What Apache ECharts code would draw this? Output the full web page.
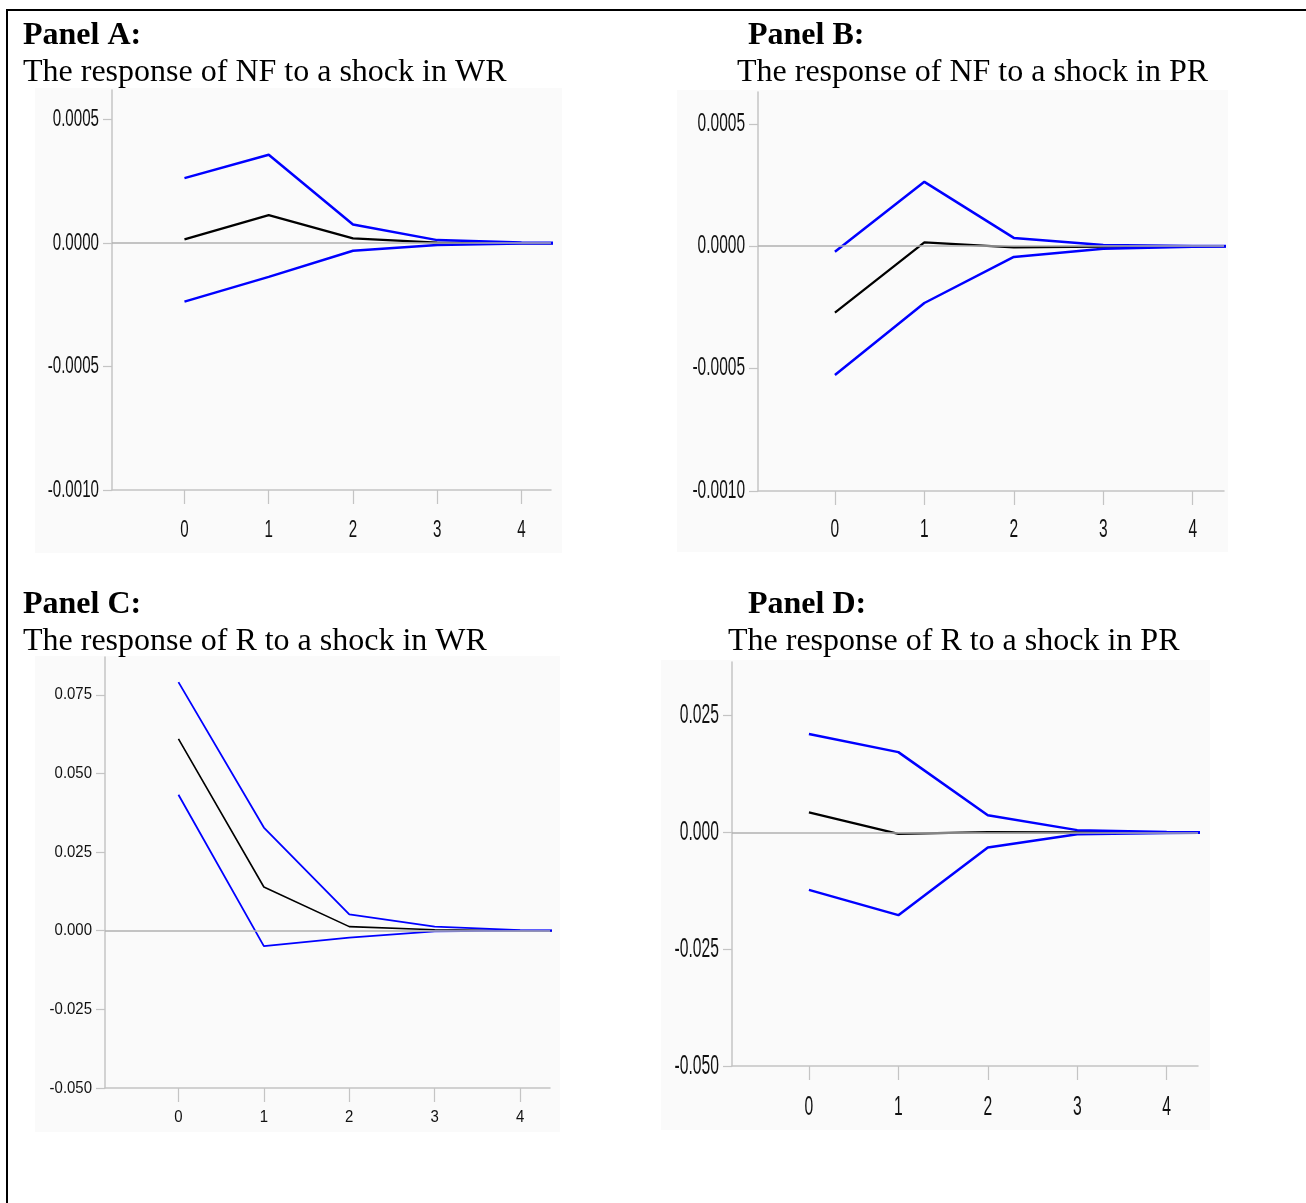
<!DOCTYPE html>
<html>
<head>
<meta charset="utf-8">
<script src="https://cdn.jsdelivr.net/npm/echarts@6/dist/echarts.min.js"></script>
<style>
  html, body { margin: 0; padding: 0; background: #ffffff; }
  #chart { width: 1306px; height: 1203px; }
</style>
</head>
<body>
<div id="chart"></div>
<script>
// Impulse response horizons (the last one runs just past the visible axis end)
const periods = [0, 1, 2, 3, 4, 5];
const xTickValues = [0, 1, 2, 3, 4];

// Panel A: response of NF to a shock in WR
const nfWrUpper = [0.000263, 0.000358, 0.0000755, 0.000012, 0.000002, 0.0000005];
const nfWrMean  = [0.000015, 0.000113, 0.000019, 0.000002, 0.0000003, 0];
const nfWrLower = [-0.000237, -0.000137, -0.000031, -0.000008, -0.000002, -0.0000005];

// Panel B: response of NF to a shock in PR
const nfPrUpper = [-0.000023, 0.000263, 0.000034, 0.000005, 0.000001, 0];
const nfPrMean  = [-0.000271, 0.000016, -0.000005, -0.000002, 0, 0];
const nfPrLower = [-0.000526, -0.000232, -0.000044, -0.00001, -0.000002, 0];

// Panel C: response of R to a shock in WR
const rWrUpper = [0.0790, 0.0328, 0.0052, 0.0013, 0.0002, 0];
const rWrMean  = [0.0610, 0.0139, 0.0013, 0.0003, 0, 0];
const rWrLower = [0.0432, -0.0049, -0.0022, -0.0002, 0, 0];

// Panel D: response of R to a shock in PR
const rPrUpper = [0.0211, 0.0172, 0.0037, 0.0005, 0.0001, 0];
const rPrMean  = [0.0043, -0.0003, 0.0001, 0, 0, 0];
const rPrLower = [-0.0123, -0.0177, -0.0032, -0.0004, -0.0001, 0];

// Y tick values per panel
const yTicksNF = [-0.001, -0.0005, 0, 0.0005];
const yTicksRWR = [-0.05, -0.025, 0, 0.025, 0.05, 0.075];
const yTicksRPR = [-0.05, -0.025, 0, 0.025];

// Panel headings
const panelTitles = ['Panel A:', 'Panel B:', 'Panel C:', 'Panel D:'];
const panelSubtitles = [
  'The response of NF to a shock in WR',
  'The response of NF to a shock in PR',
  'The response of R to a shock in WR',
  'The response of R to a shock in PR'
];

const W = 1306, H = 1203;
const tickFamily = '"Liberation Sans", Arial, Helvetica, sans-serif';
const serif = '"Liberation Serif", "Times New Roman", serif';
const axisGray = '#c4c4c4';
const BLUE = '#0000ff';

// plot areas: [left, top, right, bottom] in pixels; tick labels use a tall, condensed face
const panels = [
  { box: [112, 90, 551, 490], yMin: -0.001, yMax: 0.00062, ticks: yTicksNF, dec: 4,
    font: 24, squeeze: 0.63, xLabelDrop: 40, lw: 2.5,
    upper: nfWrUpper, mean: nfWrMean, lower: nfWrLower },
  { box: [758, 92, 1224, 491], yMin: -0.001, yMax: 0.00063, ticks: yTicksNF, dec: 4,
    font: 25, squeeze: 0.62, xLabelDrop: 39, lw: 2.5,
    upper: nfPrUpper, mean: nfPrMean, lower: nfPrLower },
  { box: [105, 657, 550, 1088], yMin: -0.05, yMax: 0.087, ticks: yTicksRWR, dec: 3,
    font: 17, squeeze: 0.88, xLabelDrop: 29, lw: 1.8,
    upper: rWrUpper, mean: rWrMean, lower: rWrLower },
  { box: [732, 662, 1198, 1066], yMin: -0.05, yMax: 0.0365, ticks: yTicksRPR, dec: 3,
    font: 28, squeeze: 0.56, xLabelDrop: 41, lw: 2.5,
    upper: rPrUpper, mean: rPrMean, lower: rPrLower }
];

const grids = [], xAxes = [], yAxes = [], series = [];
panels.forEach(function (p, i) {
  const [l, t, r, b] = p.box;
  grids.push({ left: l, top: t, width: r - l, height: b - t, containLabel: false });
  xAxes.push({
    type: 'value', gridIndex: i, min: -0.86, max: 4.35,
    axisLine: { onZero: false, lineStyle: { color: axisGray, width: 1.5 } },
    axisTick: { show: true, length: 14, customValues: xTickValues, lineStyle: { color: axisGray, width: 1.2 } },
    axisLabel: { show: false },
    splitLine: { show: false }
  });
  yAxes.push({
    type: 'value', gridIndex: i, min: p.yMin, max: p.yMax,
    axisLine: { show: true, onZero: false, lineStyle: { color: axisGray, width: 1.5 } },
    axisTick: { show: true, length: 9, customValues: p.ticks, lineStyle: { color: axisGray, width: 1.2 } },
    axisLabel: { show: false },
    splitLine: { show: false }
  });
  const pair = function (arr) { return periods.map(function (x, k) { return [x, arr[k]]; }); };
  series.push({
    type: 'line', xAxisIndex: i, yAxisIndex: i, data: pair(p.mean), clip: true,
    symbol: 'none', lineStyle: { color: '#000', width: p.lw * 0.9 }, z: 3,
    markLine: {
      silent: true, symbol: 'none', animation: false,
      label: { show: false },
      lineStyle: { color: '#b0b0b0', width: 1.5, type: 'solid' },
      data: [{ yAxis: 0 }]
    }
  });
  series.push({
    type: 'line', xAxisIndex: i, yAxisIndex: i, data: pair(p.upper), clip: true,
    symbol: 'none', lineStyle: { color: BLUE, width: p.lw }, z: 4
  });
  series.push({
    type: 'line', xAxisIndex: i, yAxisIndex: i, data: pair(p.lower), clip: true,
    symbol: 'none', lineStyle: { color: BLUE, width: p.lw }, z: 4
  });
});

const chart = echarts.init(document.getElementById('chart'), null, { renderer: 'canvas' });
chart.setOption({
  animation: false,
  backgroundColor: '#ffffff',
  grid: grids,
  xAxis: xAxes,
  yAxis: yAxes,
  series: series
});

// panel backgrounds, headings and the outer frame
const bgBoxes = [[35, 88, 562, 553], [677, 90, 1228, 552], [35, 656, 560, 1132], [661, 660, 1210, 1130]];
const titlePos = [[23, 20], [748, 20], [23, 589], [748, 589]];
const subPos = [[23, 57], [737, 57], [23, 626], [728, 626]];
const graphics = [];
bgBoxes.forEach(function (bx) {
  graphics.push({ type: 'rect', z: -10, silent: true,
    shape: { x: bx[0], y: bx[1], width: bx[2] - bx[0], height: bx[3] - bx[1] },
    style: { fill: '#fafafa' } });
});
panelTitles.forEach(function (txt, i) {
  graphics.push({ type: 'text', x: titlePos[i][0], y: titlePos[i][1], silent: true,
    style: { text: txt, font: 'bold 32px ' + serif, fill: '#000', textVerticalAlign: 'top' } });
  graphics.push({ type: 'text', x: subPos[i][0], y: subPos[i][1], silent: true,
    style: { text: panelSubtitles[i], font: '32px ' + serif, fill: '#000', textVerticalAlign: 'top' } });
});

// tick labels, placed at the axes' own pixel positions for each tick value
panels.forEach(function (p, i) {
  const [l, t, r, b] = p.box;
  p.ticks.forEach(function (v) {
    const py = chart.convertToPixel({ yAxisIndex: i }, v);
    graphics.push({ type: 'text', x: l - 13, y: py, scaleX: p.squeeze, silent: true,
      style: { text: v.toFixed(p.dec), font: p.font + 'px ' + tickFamily, fill: '#111',
        textAlign: 'right', textVerticalAlign: 'middle' } });
  });
  xTickValues.forEach(function (v) {
    const px = chart.convertToPixel({ xAxisIndex: i }, v);
    graphics.push({ type: 'text', x: px, y: b + p.xLabelDrop, scaleX: p.squeeze, silent: true,
      style: { text: String(v), font: p.font + 'px ' + tickFamily, fill: '#111',
        textAlign: 'center', textVerticalAlign: 'middle' } });
  });
});

graphics.push({ type: 'line', silent: true, shape: { x1: 6, y1: 10, x2: W, y2: 10 }, style: { stroke: '#000', lineWidth: 2 } });
graphics.push({ type: 'line', silent: true, shape: { x1: 7, y1: 9, x2: 7, y2: H }, style: { stroke: '#000', lineWidth: 2 } });

chart.setOption({ graphic: { elements: graphics } });
</script>
</body>
</html>
